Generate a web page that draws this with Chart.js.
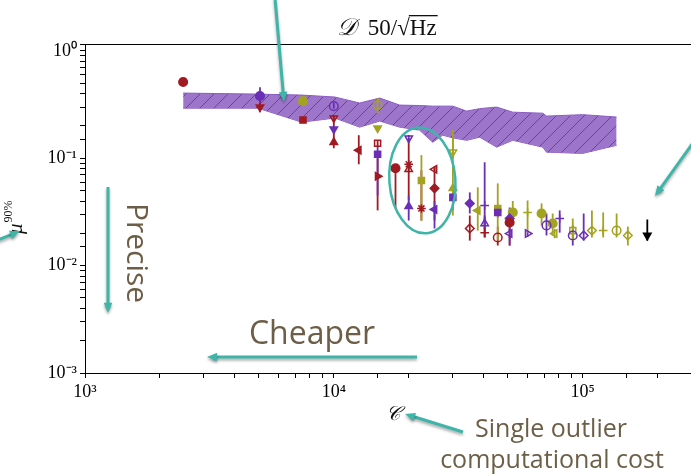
<!DOCTYPE html>
<html>
<head>
<meta charset="utf-8">
<script src="https://cdn.jsdelivr.net/npm/chart.js@4.4.0/dist/chart.umd.min.js"></script>
<style>
  html, body { margin: 0; padding: 0; background: white; overflow: hidden; }
  #wrap { width: 720px; height: 476px; }
</style>
</head>
<body>
<div id="wrap"><canvas id="myChart" width="720" height="476"></canvas></div>
<script>
// hatched band (upper / lower edge)
var bandCost = [2480, 4950, 7430, 10100, 12700, 15300, 18400, 22100, 25000, 27400, 30100, 34200, 38600, 45100, 52400, 69100, 71600, 100000, 137000];
var bandHigh = [0.405, 0.396, 0.388, 0.372, 0.327, 0.364, 0.313, 0.310, 0.306, 0.306, 0.306, 0.275, 0.290, 0.300, 0.269, 0.263, 0.247, 0.255, 0.242];
var bandLow  = [0.293, 0.293, 0.217, 0.237, 0.195, 0.222, 0.195, 0.183, 0.141, 0.164, 0.155, 0.147, 0.157, 0.127, 0.147, 0.127, 0.114, 0.111, 0.132];

// red, filled markers
var redCost = [2480, 5050, 7520, 10000, 12600, 15000, 17700, 20000, 22500, 25400, 40400, 50900];
var redMu   = [0.513, 0.300, 0.227, 0.141, 0.119, 0.0679, 0.0807, 0.0879, 0.0341, 0.0525, 0.0203, 0.0252];
var redLo   = [0.48, 0.269, 0.215, 0.124, 0.0879, 0.0327, 0.0341, 0.0405, 0.0263, 0.0263, 0.0183, 0.0154];
var redHi   = [0.55, 0.348, 0.24, 0.252, 0.164, 0.10, 0.0807, 0.154, 0.0773, 0.083, 0.0293, 0.0293];
var redMark = ['o', 'v', 's', '^', '<', '>', 'o', '*', '*', 'D', 'P', 'o'];

// red, open markers
var redOpenCost = [10000, 15000, 20000, 25400, 35200, 45600];
var redOpenMu   = [0.237, 0.138, 0.0789, 0.0789, 0.0222, 0.0183];
var redOpenLo   = [0.22, 0.13, 0.074, 0.074, 0.0171, 0.0154];
var redOpenHi   = [0.25, 0.147, 0.084, 0.084, 0.0293, 0.0231];
var redOpenMark = ['v', 's', '^', '<', 'D', 'o'];

// purple, filled
var purCost = [5050, 10000, 15000, 20000, 25400, 30100, 35200, 40400, 45600, 50900, 80900];
var purMu   = [0.380, 0.187, 0.109, 0.0356, 0.0334, 0.0432, 0.0380, 0.0364, 0.0313, 0.0275, 0.0275];
var purLo   = [0.33, 0.17, 0.045, 0.0263, 0.0222, 0.033, 0.0306, 0.0183, 0.028, 0.0154, 0.0203];
var purHi   = [0.46, 0.20, 0.132, 0.045, 0.040, 0.05, 0.0481, 0.0918, 0.036, 0.0348, 0.0327];
var purMark = ['o', 'v', 's', '^', '<', 's', 'D', 'P', 's', 'D', 'P'];

// purple, open
var purOpenCost = [10000, 20000, 40400, 50900, 60100, 71600, 91300, 101000];
var purOpenMu   = [0.306, 0.154, 0.0247, 0.0199, 0.0199, 0.0237, 0.0191, 0.0191];
var purOpenLo   = [0.29, 0.14, 0.022, 0.018, 0.0185, 0.0191, 0.0154, 0.0171];
var purOpenHi   = [0.33, 0.165, 0.028, 0.022, 0.021, 0.0306, 0.0237, 0.0306];
var purOpenMark = ['o', 'v', '^', '<', '>', 'o', 'o', 'D'];

// olive, filled
var oliCost = [7520, 15000, 22500, 30100, 37900, 45600, 52400, 60100, 68400, 75800, 121000];
var oliMu   = [0.341, 0.191, 0.0622, 0.0525, 0.0327, 0.0341, 0.0313, 0.0313, 0.0306, 0.0247, 0.0212];
var oliLo   = [0.32, 0.18, 0.0263, 0.0293, 0.0212, 0.0171, 0.025, 0.0203, 0.0237, 0.0191, 0.0183];
var oliHi   = [0.36, 0.20, 0.107, 0.183, 0.0536, 0.0584, 0.04, 0.0405, 0.038, 0.0306, 0.0313];
var oliMark = ['o', 'v', 's', '^', '<', 's', 'p', 'P', 'h', 'o', 'P'];

// olive, open
var oliOpenCost = [15000, 30100, 77200, 91300, 109000, 137000, 152000];
var oliOpenMu   = [0.313, 0.114, 0.0199, 0.0212, 0.0212, 0.0212, 0.0191];
var oliOpenLo   = [0.263, 0.10, 0.018, 0.0171, 0.0183, 0.0183, 0.0154];
var oliOpenHi   = [0.364, 0.183, 0.022, 0.0275, 0.0327, 0.0306, 0.0231];
var oliOpenMark = ['o', 'v', '<', 's', 'D', 'o', 'D'];

// the single outlier
var blkCost = [182000];
var blkMu   = [0.0191];
var blkLo   = [0.0171];
var blkHi   = [0.0269];
var blkMark = ['v'];

var decades = {'-3': '10⁻³', '-2': '10⁻²', '-1': '10⁻¹', '0': '10⁰', '3': '10³', '4': '10⁴', '5': '10⁵'};

var RED = '#a01b21';
var PURPLE = '#6a2fb4';
var OLIVE = '#a3a322';
var TEAL = '#3fb4a8';
var BROWN = '#6d5e47';

var styleOf = {o: 'circle', h: 'circle', p: 'circle', v: 'triangle', '^': 'triangle', '<': 'triangle', '>': 'triangle', s: 'rect', D: 'rectRot', P: 'cross', '*': 'star'};
var rotOf = {v: 180, '<': 270, '>': 90};

function series(cost, mu, marks, color, filled) {
  return {
    data: cost.map(function (c, i) { return {x: c, y: mu[i]}; }),
    pointStyle: marks.map(function (m) { return styleOf[m]; }),
    pointRotation: marks.map(function (m) { return rotOf[m] || 0; }),
    pointRadius: 4.3,
    backgroundColor: filled ? color : 'rgba(255,255,255,0)',
    borderColor: color,
    borderWidth: 1.5,
    showLine: false,
    order: 0
  };
}

var errSets = [
  [redCost, redLo, redHi, RED], [redOpenCost, redOpenLo, redOpenHi, RED],
  [purCost, purLo, purHi, PURPLE], [purOpenCost, purOpenLo, purOpenHi, PURPLE],
  [oliCost, oliLo, oliHi, OLIVE], [oliOpenCost, oliOpenLo, oliOpenHi, OLIVE],
  [blkCost, blkLo, blkHi, 'black']
];

// hatch pattern for the band
var pc = document.createElement('canvas');
pc.width = 14; pc.height = 14;
var pctx = pc.getContext('2d');
pctx.fillStyle = '#9d76cb';
pctx.fillRect(0, 0, 14, 14);
pctx.strokeStyle = '#6c3fa6';
pctx.lineWidth = 1;
pctx.beginPath();
pctx.moveTo(-1, 15); pctx.lineTo(15, -1);
pctx.stroke();
var hatch = pctx.createPattern(pc, 'repeat');

function tickLabel(v) {
  var e = Math.log10(v), r = Math.round(e);
  return Math.abs(e - r) < 1e-6 && decades[String(r)] ? decades[String(r)] : '';
}

var drewErr = false;
var errorBars = {
  id: 'errorBars',
  beforeDraw: function () { drewErr = false; },
  beforeDatasetDraw: function (chart, args) {
    if (drewErr || args.meta._dataset.order !== 0) return;
    drewErr = true;
    var ctx = chart.ctx, xs = chart.scales.x, ys = chart.scales.y;
    ctx.save();
    ctx.lineWidth = 1.8;
    errSets.forEach(function (s) {
      ctx.strokeStyle = s[3];
      s[0].forEach(function (c, i) {
        var px = xs.getPixelForValue(c);
        ctx.beginPath();
        ctx.moveTo(px, ys.getPixelForValue(s[1][i]));
        ctx.lineTo(px, ys.getPixelForValue(s[2][i]));
        ctx.stroke();
      });
    });
    ctx.restore();
  }
};

function arrow(ctx, x1, y1, x2, y2) {
  var a = Math.atan2(y2 - y1, x2 - x1), h = 11;
  ctx.beginPath();
  ctx.moveTo(x1, y1);
  ctx.lineTo(x2 - Math.cos(a) * 6, y2 - Math.sin(a) * 6);
  ctx.stroke();
  ctx.beginPath();
  ctx.moveTo(x2, y2);
  ctx.lineTo(x2 - h * Math.cos(a - 0.4), y2 - h * Math.sin(a - 0.4));
  ctx.lineTo(x2 - h * Math.cos(a + 0.4), y2 - h * Math.sin(a + 0.4));
  ctx.closePath();
  ctx.fill();
}

var decor = {
  id: 'decor',
  afterDraw: function (chart) {
    var ctx = chart.ctx, ca = chart.chartArea, xs = chart.scales.x, ys = chart.scales.y;
    ctx.save();
    ctx.strokeStyle = 'black';
    ctx.lineWidth = 1;
    ctx.strokeRect(ca.left + 0.5, ca.top + 0.5, ca.right - ca.left, ca.bottom - ca.top);

    // title
    ctx.fillStyle = '#111';
    ctx.textBaseline = 'alphabetic';
    var parts = [['italic 24px "DejaVu Serif"', '𝒟'], ['23px "Liberation Serif"', '  50/'], ['23px "Liberation Serif"', '√'], ['23px "Liberation Serif"', 'Hz']];
    var tw = 0;
    parts.forEach(function (p) { ctx.font = p[0]; p.w = ctx.measureText(p[1]).width; tw += p.w; });
    var tx = 387 - tw / 2, rootEnd = 0;
    parts.forEach(function (p, i) {
      ctx.font = p[0];
      ctx.fillText(p[1], tx, 35);
      tx += p.w;
      if (i === 2) rootEnd = tx;
    });
    ctx.fillRect(rootEnd - 1, 15, tx - rootEnd + 2, 1.3);

    // axis labels
    ctx.font = 'italic 20px "DejaVu Serif"';
    ctx.textAlign = 'center';
    ctx.fillText('𝒞', 393, 420);
    ctx.save();
    ctx.translate(22, 234);
    ctx.rotate(-Math.PI / 2);
    ctx.textAlign = 'left';
    ctx.font = 'italic 21px "Liberation Serif"';
    ctx.fillText('μ', 0, 0);
    var mw = ctx.measureText('μ').width;
    ctx.font = '12px "Liberation Serif"';
    ctx.fillText('90%', mw + 1, -10);
    ctx.restore();

    // ellipse around the cluster
    var ex = xs.getPixelForValue(22700), ey = ys.getPixelForValue(0.0622);
    ctx.strokeStyle = TEAL;
    ctx.lineWidth = 2.5;
    ctx.beginPath();
    ctx.ellipse(ex, ey, 33, 53, -0.08, 0, Math.PI * 2);
    ctx.stroke();

    // arrows
    ctx.shadowColor = 'rgba(0,0,0,0.35)';
    ctx.shadowBlur = 3;
    ctx.shadowOffsetY = 2;
    ctx.strokeStyle = TEAL;
    ctx.fillStyle = TEAL;
    ctx.lineWidth = 3;
    arrow(ctx, 275, -2, 284, 102);
    arrow(ctx, 695, 140, 655, 196);
    arrow(ctx, -2, 240, 20, 231);
    arrow(ctx, 108, 187, 108, 313);
    arrow(ctx, 417, 357, 207, 357);
    arrow(ctx, 463, 432, 405, 414);
    ctx.shadowColor = 'rgba(0,0,0,0)';

    // annotation text
    ctx.fillStyle = BROWN;
    ctx.textAlign = 'center';
    ctx.font = '32px "Open Sans"';
    ctx.fillText('Cheaper', 312, 344);
    ctx.font = '25px "Open Sans"';
    ctx.fillText('Single outlier', 551, 437);
    ctx.fillText('computational cost', 552, 468);
    ctx.save();
    ctx.translate(127, 253);
    ctx.rotate(Math.PI / 2);
    ctx.font = '30px "Open Sans"';
    ctx.fillText('Precise', 0, 0);
    ctx.restore();
    ctx.restore();
  }
};

new Chart('myChart', {
  type: 'scatter',
  data: {
    datasets: [
      {
        data: bandCost.map(function (c, i) { return {x: c, y: bandHigh[i]}; }),
        showLine: true, pointRadius: 0, borderColor: '#8a5cc2', borderWidth: 1,
        backgroundColor: hatch, fill: '+1', tension: 0, order: 10
      },
      {
        data: bandCost.map(function (c, i) { return {x: c, y: bandLow[i]}; }),
        showLine: true, pointRadius: 0, borderColor: '#8a5cc2', borderWidth: 1,
        fill: false, tension: 0, order: 10
      },
      series(redCost, redMu, redMark, RED, true),
      series(redOpenCost, redOpenMu, redOpenMark, RED, false),
      series(purCost, purMu, purMark, PURPLE, true),
      series(purOpenCost, purOpenMu, purOpenMark, PURPLE, false),
      series(oliCost, oliMu, oliMark, OLIVE, true),
      series(oliOpenCost, oliOpenMu, oliOpenMark, OLIVE, false),
      series(blkCost, blkMu, blkMark, 'black', true)
    ]
  },
  options: {
    responsive: false,
    animation: false,
    layout: {padding: {top: 44, left: 0, right: 13, bottom: 0}},
    plugins: {legend: {display: false}, tooltip: {enabled: false}, title: {display: false}},
    scales: {
      x: {
        type: 'logarithmic', min: 1000, max: 316228,
        afterFit: function (s) { s.height = 103; },
        grid: {drawOnChartArea: false, tickLength: 5, color: 'black'},
        border: {display: true, color: 'black'},
        ticks: {
          autoSkip: false, maxRotation: 0, padding: 3, color: 'black',
          font: {family: 'Liberation Serif', size: 18},
          callback: tickLabel
        }
      },
      y: {
        type: 'logarithmic', min: 0.001, max: 1.16,
        afterFit: function (s) { s.width = 85; },
        grid: {drawOnChartArea: false, tickLength: 5, color: 'black'},
        border: {display: true, color: 'black'},
        ticks: {
          autoSkip: false, padding: 3, color: 'black',
          font: {family: 'Liberation Serif', size: 18},
          callback: tickLabel
        }
      }
    }
  },
  plugins: [errorBars, decor]
});
</script>
</body>
</html>
